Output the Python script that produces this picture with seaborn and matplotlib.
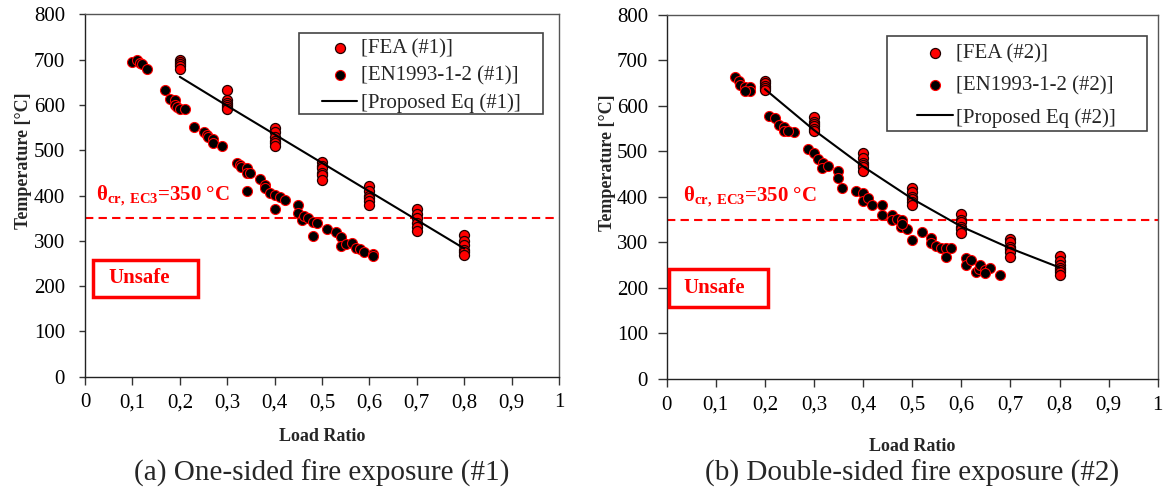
import numpy as np
import pandas as pd
import matplotlib
matplotlib.use("Agg")
import matplotlib.pyplot as plt
import seaborn as sns
from matplotlib.patches import Rectangle
from matplotlib.ticker import FuncFormatter

sns.set_theme(style="white")
plt.rcParams["font.family"] = ["Liberation Serif", "DejaVu Serif"]
plt.rcParams["mathtext.fontset"] = "custom"
plt.rcParams["mathtext.rm"] = "Liberation Serif"
plt.rcParams["mathtext.bf"] = "Liberation Serif:bold"
plt.rcParams["mathtext.it"] = "Liberation Serif:italic"

# ---- One-sided fire exposure (#1) ----
fea1_x = [0.2]*5 + [0.3]*6 + [0.4]*6 + [0.5]*6 + [0.6]*6 + [0.7]*6 + [0.8]*6
fea1_t = [700, 695, 690, 685, 680,
          632, 610, 605, 600, 595, 590,
          550, 540, 530, 520, 515, 510,
          475, 465, 460, 450, 445, 435,
          422, 410, 400, 395, 388, 378,
          370, 360, 350, 340, 330, 322,
          312, 300, 290, 280, 275, 268]

en1_x = [0.10, 0.11, 0.115, 0.12, 0.13,
         0.169, 0.179, 0.19, 0.19, 0.195, 0.20, 0.211,
         0.229, 0.25, 0.257, 0.26, 0.271, 0.271, 0.29,
         0.32, 0.327, 0.33, 0.341, 0.341, 0.348, 0.341,
         0.369, 0.38, 0.38, 0.39, 0.40, 0.411, 0.422, 0.40,
         0.45, 0.45, 0.457, 0.461, 0.471, 0.482, 0.489, 0.482,
         0.51, 0.529, 0.541, 0.541, 0.551, 0.563, 0.572, 0.58, 0.589, 0.608, 0.608]
en1_t = [695, 700, 693, 690, 679,
         633, 613, 611, 600, 595, 591, 591,
         551, 541, 534, 530, 524, 517, 510,
         472, 467, 464, 460, 449, 450, 410,
         436, 423, 416, 405, 402, 397, 390, 370,
         379, 361, 346, 355, 350, 342, 340, 311,
         327, 319, 308, 288, 293, 296, 285, 281, 276, 271, 266]

prop1_x = [0.2, 0.3, 0.4, 0.5, 0.6, 0.7, 0.8]
prop1_t = [662, 598, 535, 472, 409, 346, 283]

# ---- Double-sided fire exposure (#2) ----
fea2_x = [0.2]*5 + [0.3]*6 + [0.4]*6 + [0.5]*6 + [0.6]*6 + [0.7]*6 + [0.8]*7
fea2_t = [655, 650, 645, 640, 635,
          575, 565, 560, 555, 550, 545,
          496, 485, 475, 470, 465, 458,
          420, 410, 400, 395, 390, 383,
          362, 350, 345, 335, 330, 320,
          307, 300, 290, 285, 280, 268,
          270, 260, 250, 245, 240, 235, 228]

en2_x = [0.139, 0.148, 0.149, 0.159, 0.169, 0.169, 0.159,
         0.209, 0.22, 0.229, 0.238, 0.238, 0.259, 0.247,
         0.288, 0.299, 0.308, 0.319, 0.317, 0.329, 0.349, 0.348, 0.358,
         0.386, 0.399, 0.399, 0.41, 0.419, 0.439, 0.439, 0.459, 0.459,
         0.469, 0.479, 0.477, 0.489, 0.479, 0.50,
         0.519, 0.539, 0.539, 0.549, 0.559, 0.569, 0.58, 0.569,
         0.61, 0.61, 0.62, 0.629, 0.637, 0.639, 0.649, 0.659, 0.649, 0.678]
en2_t = [663, 655, 646, 641, 641, 632, 633,
         579, 573, 558, 553, 544, 542, 544,
         506, 496, 484, 474, 463, 469, 458, 441, 419,
         413, 408, 391, 397, 383, 383, 360, 360, 349,
         351, 349, 335, 329, 341, 305,
         322, 309, 298, 292, 287, 287, 287, 269,
         267, 251, 262, 236, 241, 251, 240, 243, 234, 229]

prop2_x = [0.2, 0.3, 0.4, 0.5, 0.6, 0.7, 0.8]
prop2_t = [637, 547, 467, 396, 335, 287, 245]

x_ticks = [0, 0.1, 0.2, 0.3, 0.4, 0.5, 0.6, 0.7, 0.8, 0.9, 1.0]
y_ticks = [0, 100, 200, 300, 400, 500, 600, 700, 800]
critical_temp = 350

FEA_FACE, FEA_EDGE = "#ff0000", "#200000"
EN_FACE, EN_EDGE = "#000000", "#ff0000"

panels = [
    dict(rect=[0.0728, 0.2405, 0.4058, 0.7306], tag="#1",
         fea=(fea1_x, fea1_t), en=(en1_x, en1_t), prop=(prop1_x, prop1_t),
         caption="(a) One-sided fire exposure (#1)", xlabelpad=11,
         ylabel_x=-0.111, ytick_len=4.5, ytick_pad=10,
         legend_frame=(0.451, 0.725, 0.515, 0.223),
         legend_anchor=(0.50, 0.932), legend_spacing=0.36,
         theta_pos=(0.023, 390), unsafe_box=(0.017, 176, 0.221, 82),
         unsafe_dx=0.032),
    dict(rect=[0.5708, 0.2359, 0.4204, 0.7339], tag="#2",
         fea=(fea2_x, fea2_t), en=(en2_x, en2_t), prop=(prop2_x, prop2_t),
         caption="(b) Double-sided fire exposure (#2)", xlabelpad=17,
         ylabel_x=-0.103, ytick_len=6.5, ytick_pad=7,
         legend_frame=(0.449, 0.681, 0.529, 0.261),
         legend_anchor=(0.51, 0.921), legend_spacing=0.6,
         theta_pos=(0.033, 389), unsafe_box=(0.005, 158, 0.201, 84),
         unsafe_dx=0.03),
]

fig = plt.figure(figsize=(11.68, 4.96), dpi=100)

comma = FuncFormatter(lambda v, _: ("%g" % v).replace(".", ","))

for p in panels:
    ax = fig.add_axes(p["rect"])
    fx, ft = p["fea"]
    ex, et = p["en"]
    px, pt = p["prop"]

    fea_df = pd.DataFrame({"load": fx, "temp": ft})
    en_df = pd.DataFrame({"load": ex, "temp": et})

    sns.scatterplot(data=fea_df, x="load", y="temp", ax=ax, color=FEA_FACE,
                    edgecolor=FEA_EDGE, linewidth=0.9, s=52, zorder=3)
    fea_pts = ax.collections[-1]
    sns.scatterplot(data=en_df, x="load", y="temp", ax=ax, color=EN_FACE,
                    edgecolor=EN_EDGE, linewidth=0.8, s=52, zorder=3)
    en_pts = ax.collections[-1]

    sns.lineplot(x=px, y=pt, ax=ax, color="black", linewidth=1.5, zorder=4)
    prop_line = ax.lines[-1]

    ax.axhline(critical_temp, color="#ff0000", linestyle=(0, (4, 2.5)),
               linewidth=1.5, zorder=2)

    ax.set_xlim(0, 1)
    ax.set_ylim(0, 800)
    ax.set_xticks(x_ticks)
    ax.set_yticks(y_ticks)
    ax.xaxis.set_major_formatter(comma)
    ax.tick_params(axis="both", direction="out", width=1,
                   color="#333333", labelsize=15, labelcolor="black",
                   bottom=True, left=True)
    ax.tick_params(axis="x", length=6, pad=6)
    ax.tick_params(axis="y", length=p["ytick_len"], pad=p["ytick_pad"])
    for sp in ax.spines.values():
        sp.set_color("#555555")
        sp.set_linewidth(1.0)
    ax.spines["left"].set_color("#222222")
    ax.spines["bottom"].set_color("#222222")

    ax.set_xlabel("Load Ratio", fontsize=13, fontweight="bold",
                  labelpad=p["xlabelpad"])
    ax.set_ylabel("Temperature [°C]", fontsize=13, fontweight="bold")
    ax.yaxis.set_label_coords(p["ylabel_x"], 0.595)

    tx, ty = p["theta_pos"]
    ax.text(tx, ty, r"$\mathbf{θ_{cr,\ EC3}}$" + "=350 °C", color="#ff0000",
            fontsize=15, fontweight="bold", ha="left", va="baseline")

    bx, by, bw, bh = p["unsafe_box"]
    ax.add_patch(Rectangle((bx, by), bw, bh, fill=False, edgecolor="#ff0000",
                           linewidth=2.5, zorder=5))
    ax.text(bx + p["unsafe_dx"], by + bh / 2, "Unsafe", color="#ff0000",
            fontsize=15, fontweight="bold", ha="left", va="center")

    # legend frame drawn as its own box, entries placed inside it
    lx, ly, lw, lh = p["legend_frame"]
    ax.add_patch(Rectangle((lx, ly), lw, lh, transform=ax.transAxes,
                           fill=True, facecolor="white", edgecolor="#444444",
                           linewidth=1.2, zorder=6))
    labels = [f"[FEA ({p['tag']})]", f"[EN1993-1-2 ({p['tag']})]",
              f"[Proposed Eq ({p['tag']})]"]
    leg = ax.legend([fea_pts, en_pts, prop_line], labels, loc="upper left",
                    bbox_to_anchor=p["legend_anchor"], fontsize=15,
                    frameon=False, borderpad=0,
                    labelspacing=p["legend_spacing"], handlelength=1.7,
                    handletextpad=0.15, borderaxespad=0)
    leg.set_zorder(7)

    cx = p["rect"][0] + p["rect"][2] / 2
    fig.text(cx, 1 - 473 / 496, p["caption"], ha="center", va="center",
             fontsize=21)

fig.savefig("out.png", dpi=100, facecolor="white")
